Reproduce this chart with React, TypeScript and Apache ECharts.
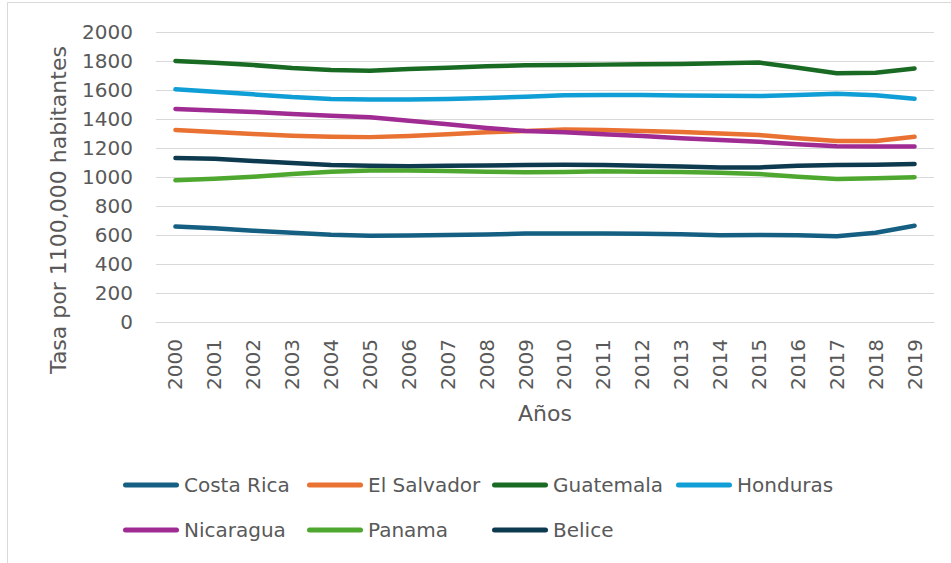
import React, { useEffect, useRef } from "react";
import * as echarts from "echarts";

const years = [
  "2000", "2001", "2002", "2003", "2004", "2005", "2006", "2007", "2008", "2009",
  "2010", "2011", "2012", "2013", "2014", "2015", "2016", "2017", "2018", "2019",
];

const costaRica = [658, 646, 630, 616, 602, 595, 596, 600, 604, 610, 611, 611, 609, 605, 598, 600, 598, 591, 616, 664];
const elSalvador = [1324, 1310, 1296, 1285, 1278, 1275, 1282, 1294, 1308, 1317, 1328, 1324, 1318, 1310, 1300, 1289, 1268, 1249, 1249, 1277];
const guatemala = [1800, 1788, 1772, 1751, 1738, 1733, 1745, 1754, 1763, 1770, 1772, 1775, 1777, 1779, 1784, 1789, 1754, 1715, 1719, 1749];
const honduras = [1605, 1588, 1570, 1551, 1538, 1535, 1535, 1538, 1545, 1554, 1563, 1566, 1565, 1562, 1560, 1558, 1565, 1574, 1564, 1540];
const nicaragua = [1469, 1458, 1449, 1435, 1423, 1412, 1388, 1363, 1338, 1317, 1308, 1295, 1282, 1268, 1256, 1243, 1226, 1212, 1210, 1210];
const panama = [977, 988, 1002, 1021, 1037, 1044, 1044, 1042, 1037, 1033, 1035, 1039, 1037, 1035, 1030, 1021, 1002, 986, 991, 999];
const belice = [1131, 1126, 1110, 1096, 1082, 1078, 1075, 1078, 1080, 1082, 1084, 1082, 1078, 1073, 1066, 1066, 1078, 1082, 1084, 1090];

const seriesNames = ["Costa Rica", "El Salvador", "Guatemala", "Honduras", "Nicaragua", "Panama", "Belice"];
const seriesValues = [costaRica, elSalvador, guatemala, honduras, nicaragua, panama, belice];
const seriesColors = ["#156082", "#E97132", "#196B24", "#0F9ED5", "#A02B93", "#4EA72E", "#0D3A4E"];

// legend columns (each column is stacked vertically)
const legendColumns = [
  ["Costa Rica", "Nicaragua"],
  ["El Salvador", "Panama"],
  ["Guatemala", "Belice"],
  ["Honduras"],
];

const yTitle = "Tasa por 1100,000 habitantes";
const xTitle = "Años";

const FONT = '"DejaVu Sans", sans-serif';
const TEXT = "#595959";
const GRID = "#d9d9d9";

export default function App() {
  const ref = useRef<HTMLDivElement>(null);

  useEffect(() => {
    if (!ref.current) return;
    const chart = echarts.init(ref.current, null, { renderer: "svg" });
    const legendX = [123, 307, 492, 676];
    chart.setOption({
      animation: false,
      backgroundColor: "#ffffff",
      textStyle: { fontFamily: FONT },
      grid: { left: 156, top: 32, width: 778, height: 290 },
      xAxis: {
        type: "category",
        data: years,
        boundaryGap: true,
        axisLine: { lineStyle: { color: GRID, width: 1 } },
        axisTick: { show: false },
        axisLabel: { rotate: 90, margin: 17, color: TEXT, fontSize: 20, fontFamily: FONT, interval: 0 },
      },
      yAxis: {
        type: "value",
        min: 0,
        max: 2000,
        interval: 200,
        axisLine: { show: false },
        axisTick: { show: false },
        splitLine: { lineStyle: { color: GRID, width: 1 } },
        axisLabel: {
          margin: 23,
          color: TEXT,
          fontSize: 20,
          fontFamily: FONT,
          formatter: (v: number) => String(v),
        },
      },
      legend: legendColumns.map((col, i) => ({
        data: col,
        orient: "vertical",
        left: legendX[i],
        top: 474,
        padding: 0,
        itemGap: 23,
        itemWidth: 56,
        itemHeight: 5,
        icon: "path://M2.5,0 H53.5 A2.5,2.5 0 0 1 53.5,5 H2.5 A2.5,2.5 0 0 1 2.5,0 Z",
        textStyle: { color: TEXT, fontSize: 20, fontFamily: FONT, lineHeight: 22 },
      })),
      graphic: [
        {
          type: "rect",
          z: -10,
          shape: { x: 7.5, y: 2.5, width: 1000, height: 1000 },
          style: { fill: "none", stroke: GRID, lineWidth: 1 },
        },
        {
          type: "text",
          x: 58,
          y: 210,
          rotation: Math.PI / 2,
          style: {
            text: yTitle,
            fill: TEXT,
            fontSize: 22,
            fontFamily: FONT,
            align: "center",
            verticalAlign: "middle",
          },
        },
        {
          type: "text",
          x: 545,
          y: 413,
          style: {
            text: xTitle,
            fill: TEXT,
            fontSize: 22,
            fontFamily: FONT,
            align: "center",
            verticalAlign: "middle",
          },
        },
      ],
      series: seriesNames.map((name, i) => ({
        name,
        type: "line",
        data: seriesValues[i],
        symbol: "none",
        smooth: false,
        color: seriesColors[i],
        lineStyle: { width: 4.5, color: seriesColors[i], cap: "round", join: "round" },
      })),
    });
    return () => chart.dispose();
  }, []);

  return (
    <div
      ref={ref}
      style={{ position: "fixed", left: 0, top: 0, width: 951, height: 563, background: "#fff" }}
    />
  );
}
